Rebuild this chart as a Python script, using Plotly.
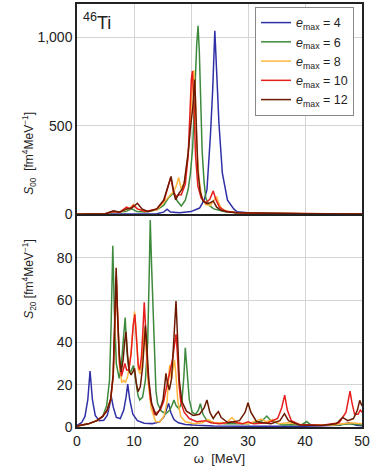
import plotly.graph_objects as go

# strength functions of 46Ti
# top panel: S00, bottom panel: S20, x = omega in MeV
emax_labels = ["4", "6", "8", "10", "12"]
colors = ["#3030a6", "#3d8a3d", "#ffb83d", "#e61e1e", "#6b1a00"]

# ---- S00 ----
w00_e4 = [0, 10, 14, 15.2, 15.8, 16.4, 18, 20, 21.5, 22.3, 22.8, 23.4, 23.8, 24.18, 24.5, 24.9, 25.5, 26.4, 27.5, 28.1, 30, 35, 50]
s00_e4 = [0, 1, 3, 12, 28, 12, 8, 15, 35, 80, 139, 441, 700, 1038, 760, 516, 232, 80, 30, 14, 8, 4, 1]

w00_e6 = [0, 5, 6.5, 8.5, 9.6, 10.5, 12, 14, 15.2, 16.0, 16.9, 17.6, 18.3, 19.0, 19.5, 19.9, 20.3, 20.5, 20.8, 21.0, 21.24, 21.45, 21.7, 21.95, 22.3, 22.6, 23.2, 24, 26, 30, 40, 50]
s00_e6 = [0, 3, 12, 15, 30, 15, 12, 25, 50, 90, 120, 75, 47, 80, 140, 233, 380, 574, 800, 960, 1066, 930, 650, 360, 180, 90, 50, 30, 14, 6, 3, 2]

w00_e8 = [0, 5, 6.3, 7.5, 8.5, 9.3, 9.9, 10.6, 12, 14, 15.3, 16.0, 16.5, 17.0, 17.4, 17.84, 18.3, 18.9, 19.5, 19.9, 20.2, 20.5, 20.75, 21.0, 21.4, 21.9, 22.6, 23.4, 23.9, 24.5, 24.9, 25.4, 26.5, 28, 32, 40, 50]
s00_e8 = [0, 3, 15, 10, 25, 35, 55, 30, 15, 25, 70, 100, 115, 130, 160, 208, 140, 190, 330, 520, 720, 815, 680, 400, 200, 95, 55, 50, 75, 100, 60, 30, 14, 8, 5, 3, 2]

w00_e10 = [0, 5, 6.3, 7.5, 8.7, 9.3, 9.9, 10.6, 12, 14, 15.3, 15.9, 16.45, 16.9, 17.4, 17.8, 18.3, 19.0, 19.5, 19.8, 20.05, 20.25, 20.5, 20.8, 21.2, 21.8, 22.6, 23.3, 23.9, 24.4, 25.0, 26, 28, 32, 40, 50]
s00_e10 = [0, 3, 15, 12, 40, 30, 50, 30, 15, 30, 80, 150, 210, 130, 100, 110, 110, 170, 330, 560, 760, 811, 640, 330, 160, 90, 65, 85, 132, 80, 40, 18, 8, 5, 3, 2]

w00_e12 = [0, 5, 6.4, 7.5, 8.7, 9.6, 10.6, 11.4, 12.5, 14, 15.2, 15.9, 16.5, 16.95, 17.3, 17.9, 18.4, 18.8, 19.2, 19.5, 19.9, 20.3, 20.66, 20.9, 21.2, 21.6, 22.1, 22.8, 23.4, 23.9, 24.5, 25.3, 26.5, 28, 32, 40, 50]
s00_e12 = [0, 3, 20, 12, 30, 35, 62, 30, 15, 30, 80, 160, 214, 130, 81, 119, 140, 176, 260, 347, 489, 600, 763, 520, 250, 130, 75, 60, 65, 75, 40, 22, 12, 8, 5, 3, 2]

# ---- S20 ----
w20_e4 = [0, 0.8, 1.4, 1.9, 2.29, 2.7, 3.2, 3.9, 4.7, 5.3, 5.7, 6.0, 6.35, 6.9, 7.6, 8.2, 8.6, 8.9, 9.25, 9.8, 10.6, 11.8, 13.2, 14.5, 15.3, 15.75, 16.07, 16.45, 17.0, 17.8, 19, 21, 24, 30, 40, 46, 47.6, 49, 50]
s20_e4 = [0.8, 2, 5, 13, 26.5, 13, 5.5, 3, 3.2, 5.5, 10, 14.6, 9.5, 4.5, 4, 8, 14, 20.3, 13, 6, 3, 1.8, 1.6, 2.5, 5, 8.5, 11.2, 7, 3.5, 2, 1.2, 0.8, 0.5, 0.4, 0.4, 0.8, 2, 0.8, 0.6]

w20_e6 = [0, 2, 3.5, 4.5, 5.2, 5.7, 6.0, 6.28, 6.55, 6.9, 7.4, 7.8, 8.15, 8.45, 8.75, 9.1, 9.4, 9.9, 10.3, 10.7, 11.0, 11.5, 12.0, 12.4, 12.65, 12.85, 13.1, 13.4, 13.55, 13.85, 14.15, 14.8, 15.6, 16.3, 16.7, 17.0, 17.4, 17.9, 18.4, 18.75, 19.0, 19.3, 19.7, 20.2, 20.8, 21.3, 21.65, 22.1, 22.8, 24, 26, 30, 32.5, 33.3, 34, 36, 39.5, 40.3, 41, 45, 48, 50]
s20_e6 = [0.5, 1.5, 3, 5, 10, 22, 50, 85.7, 55, 30, 23, 30, 42, 51.7, 36, 27, 26, 29, 22, 15, 12.8, 14, 22, 40, 70, 97.9, 75, 53, 34.6, 17, 11, 7.5, 6.3, 8, 10.5, 12.8, 10, 8.6, 12, 24, 37.5, 26, 13, 7, 6, 8, 11, 6, 3, 2, 1.5, 1.5, 3, 5.2, 3, 1, 1.2, 2.6, 1, 0.8, 1.5, 1]

w20_e8 = [0, 2, 3.5, 4.5, 5.3, 5.9, 6.35, 6.65, 6.92, 7.2, 7.5, 7.85, 8.2, 8.5, 8.9, 9.4, 9.8, 10.1, 10.4, 10.75, 11.1, 11.4, 11.65, 11.85, 12.1, 12.45, 13.0, 13.8, 14.6, 15.3, 15.8, 16.25, 16.55, 16.85, 17.1, 17.35, 17.7, 18.2, 19, 20.5, 22, 23, 24, 26.2, 27.2, 28, 30, 32.3, 33.2, 34.3, 35.5, 37, 40, 45, 48, 50]
s20_e8 = [0.5, 1.5, 3, 5, 8, 13, 24, 46, 68, 48, 28, 21, 22, 21, 24, 33, 47, 54.6, 44, 27, 25, 30, 40, 47, 38, 22, 9, 2.5, 2.5, 5.5, 12, 29.3, 23, 28, 31.7, 25, 12, 5, 2.5, 1.5, 2, 3.5, 2, 2, 4.5, 2, 1.5, 3.8, 2.5, 3.5, 1.5, 2, 1, 1, 2, 1.5]

w20_e10 = [0, 2, 3.5, 4.5, 5.3, 5.9, 6.35, 6.65, 6.9, 7.15, 7.45, 7.8, 8.15, 8.4, 8.7, 9.1, 9.5, 9.85, 10.15, 10.45, 10.75, 11.0, 11.3, 11.55, 11.8, 12.05, 12.4, 12.9, 13.6, 14.6, 15.2, 15.7, 16.2, 16.8, 17.15, 17.37, 17.6, 17.9, 18.2, 18.8, 19.7, 21, 22.5, 23.5, 25, 27.2, 29, 30, 31, 33.5, 35.2, 35.9, 36.44, 36.9, 37.6, 39, 43, 46, 47.2, 47.6, 47.9, 48.2, 48.7, 49.3, 49.7, 50]
s20_e10 = [0.5, 1.5, 3, 5, 8, 13, 24, 48, 71, 50, 30, 24, 27, 30, 27, 27, 35, 48, 53.3, 42, 29, 27, 33, 45, 59, 46, 27, 13, 6, 8, 12, 18.7, 25, 32.5, 40, 43.8, 35, 20, 12, 7, 4, 2.5, 3, 2, 1.5, 2.5, 1.5, 2.5, 1.5, 2, 4, 9, 15.1, 8, 3, 1.2, 0.8, 2, 7, 12, 17, 12, 6, 6, 8, 7]

w20_e12 = [0, 2, 3.5, 4.5, 5.3, 5.9, 6.35, 6.65, 6.87, 7.1, 7.4, 7.75, 8.1, 8.35, 8.6, 8.9, 9.2, 9.5, 9.8, 10.1, 10.4, 10.7, 11.1, 11.5, 11.8, 12.0, 12.25, 12.6, 13.1, 13.9, 14.6, 15.1, 15.4, 15.6, 15.85, 16.2, 16.6, 16.95, 17.2, 17.37, 17.6, 17.95, 18.4, 19.2, 20.4, 21.5, 22.3, 22.8, 23.3, 23.9, 24.4, 24.8, 25.3, 26.5, 28.5, 29.5, 30.0, 30.5, 31.5, 34, 35.6, 36.4, 37.1, 39, 43, 45.5, 46.6, 47.5, 48.5, 49.2, 49.6, 50]
s20_e12 = [0.5, 1.5, 3, 5, 8, 13, 25, 50, 75.3, 55, 35, 26, 32, 40, 45, 33, 26, 24.6, 26, 27.7, 21, 16.7, 19, 28, 40, 48, 38, 22, 11, 5.5, 8.6, 13, 20, 25.4, 21, 17.5, 23, 38, 52, 59.6, 45, 22, 12, 7.5, 5.5, 6, 9, 12.8, 7, 4, 6, 7.3, 4.5, 2, 3, 7, 11.5, 7, 2.5, 1.5, 3, 6.3, 3, 1, 0.7, 1.5, 4.5, 3, 4, 8, 12.6, 10]

top_sets = [(w00_e4, s00_e4), (w00_e6, s00_e6), (w00_e8, s00_e8), (w00_e10, s00_e10), (w00_e12, s00_e12)]
bot_sets = [(w20_e4, s20_e4), (w20_e6, s20_e6), (w20_e8, s20_e8), (w20_e10, s20_e10), (w20_e12, s20_e12)]

fig = go.Figure()
for i, lab in enumerate(emax_labels):
    name = f"<i>e</i><sub>max</sub> = {lab}"
    fig.add_trace(go.Scatter(x=top_sets[i][0], y=top_sets[i][1], mode="lines", name=name,
                             legendgroup=lab, line=dict(color=colors[i], width=1.5),
                             xaxis="x2", yaxis="y2"))
    fig.add_trace(go.Scatter(x=bot_sets[i][0], y=bot_sets[i][1], mode="lines", name=name,
                             legendgroup=lab, showlegend=False,
                             line=dict(color=colors[i], width=1.5),
                             xaxis="x", yaxis="y"))

axis_style = dict(showline=True, linecolor="#222", linewidth=1.5, mirror=True,
                  showgrid=True, gridcolor="#d4d4d4", gridwidth=1, zeroline=False,
                  ticks="", tickfont=dict(size=14, color="#222"))

fig.update_layout(
    width=374, height=475,
    margin=dict(l=77, r=12, t=2, b=48),
    paper_bgcolor="white", plot_bgcolor="white",
    font=dict(family="Liberation Sans, Arial, sans-serif", color="#222"),
    xaxis=dict(domain=[0, 1], range=[0, 50], dtick=10, anchor="y",
               title=dict(text="ω  [MeV]", font=dict(size=13), standoff=6), **axis_style),
    yaxis=dict(domain=[0, 0.5], range=[0, 100], tickvals=[0, 20, 40, 60, 80], anchor="x", **axis_style),
    xaxis2=dict(domain=[0, 1], range=[0, 50], dtick=10, anchor="y2", matches="x",
                showticklabels=False, **axis_style),
    yaxis2=dict(domain=[0.503, 1], range=[0, 1190], tickvals=[0, 500, 1000], tickformat=",",
                anchor="x2", **axis_style),
    legend=dict(x=0.972, y=0.993, xanchor="right", yanchor="top",
                bgcolor="white", bordercolor="#888", borderwidth=1,
                font=dict(size=12.5), itemwidth=30, tracegroupgap=0),
    showlegend=True,
)

fig.add_annotation(text="<sup>46</sup>Ti", xref="paper", yref="paper", x=0.015, y=0.99,
                   xanchor="left", yanchor="top", showarrow=False, font=dict(size=18))
fig.add_annotation(text="<i>S</i><sub>00</sub>  [fm<sup>4</sup>MeV<sup>−1</sup>]", xref="paper", yref="paper",
                   x=-0.205, y=0.75, textangle=-90, showarrow=False, font=dict(size=12))
fig.add_annotation(text="<i>S</i><sub>20</sub> [fm<sup>4</sup>MeV<sup>−1</sup>]", xref="paper", yref="paper",
                   x=-0.205, y=0.25, textangle=-90, showarrow=False, font=dict(size=12))

# the page adds a default body margin, drop it so the figure sits at the corner
fig.write_html("out.html", config={"displayModeBar": False},
               post_script="document.body.style.margin='0';")
